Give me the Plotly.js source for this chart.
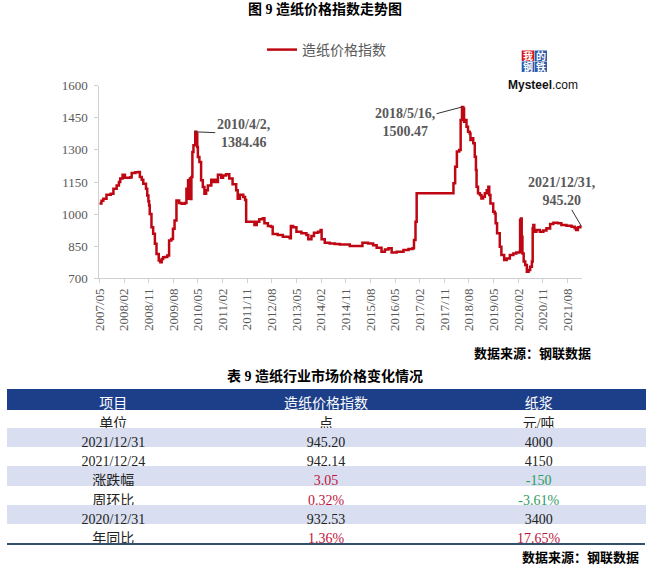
<!DOCTYPE html>
<html>
<head>
<meta charset="utf-8">
<script src="https://cdn.plot.ly/plotly-3.0.1.min.js"></script>
<style>html,body{margin:0;padding:0;background:#fff;}#chart{width:650px;height:568px;}</style>
</head>
<body>
<div id="chart"></div>
<script>
// ---- chart data (weekly paper price index) ----
const dates = [
'2007-05-01','2007-05-25','2007-06-15','2007-07-20','2007-09-05','2007-10-05','2007-11-10','2007-12-05','2007-12-20',
'2008-01-15','2008-02-10','2008-04-10','2008-04-25','2008-06-05','2008-07-05','2008-07-25','2008-08-15','2008-09-01',
'2008-10-01','2008-10-15','2008-10-28','2008-11-05','2008-11-12','2008-12-01','2008-12-20','2009-01-08','2009-01-26',
'2009-02-20','2009-03-10','2009-03-25','2009-04-10','2009-05-01','2009-05-26','2009-06-15','2009-07-10','2009-07-28',
'2009-08-15','2009-09-05','2009-10-05','2009-11-01','2009-12-05','2009-12-25','2010-01-12','2010-01-22','2010-02-01',
'2010-02-10','2010-02-18','2010-03-01','2010-03-13','2010-04-02','2010-04-13','2010-04-24','2010-05-01','2010-05-18',
'2010-06-06','2010-06-25','2010-07-13','2010-08-01','2010-08-20','2010-09-27','2010-10-20','2010-11-03','2010-11-25',
'2010-12-10','2011-01-15','2011-02-05','2011-03-10','2011-04-15','2011-05-22','2011-07-01','2011-07-18','2011-08-12',
'2011-09-18','2011-10-08','2011-10-20','2012-01-20','2012-02-15','2012-03-14','2012-04-22','2012-05-10','2012-06-18',
'2012-07-22','2012-08-10','2012-10-05','2012-12-01','2013-02-15','2013-02-28','2013-03-25','2013-05-01','2013-06-25',
'2013-08-20','2013-09-10','2013-10-15','2013-11-12','2013-12-28','2014-01-25','2014-02-05','2014-03-12','2014-05-06',
'2014-07-01','2014-08-25','2014-12-15','2015-04-05','2015-05-05','2015-07-07','2015-09-01','2015-10-10','2015-12-03',
'2016-01-10','2016-02-18','2016-03-25','2016-05-20','2016-08-03','2016-09-28','2016-11-12','2016-11-28','2016-12-15',
'2016-12-28','2018-02-10','2018-03-01','2018-03-20','2018-04-15','2018-05-01','2018-05-16','2018-05-30','2018-06-08',
'2018-06-25','2018-07-05','2018-07-22','2018-08-10','2018-08-18','2018-09-05','2018-09-18','2018-10-05','2018-10-18',
'2018-10-25','2018-11-10','2018-12-01','2018-12-18','2019-01-05','2019-01-25','2019-02-15','2019-03-05','2019-03-15',
'2019-03-28','2019-04-28','2019-05-15','2019-05-25','2019-06-10','2019-07-10','2019-07-28','2019-08-28','2019-09-25',
'2019-10-30','2019-12-08','2020-01-10','2020-02-15','2020-02-21','2020-03-01','2020-03-10','2020-03-18','2020-04-01',
'2020-04-18','2020-05-06','2020-05-25','2020-06-12','2020-07-01','2020-07-10','2020-07-17','2020-07-28','2020-08-20',
'2020-09-28','2020-11-05','2020-12-10','2020-12-31','2021-01-20','2021-02-25','2021-04-15','2021-05-25','2021-07-20',
'2021-09-15','2021-10-20','2021-11-05','2021-11-25','2021-12-24','2021-12-31'
];
const indexValues = [
1050,1062,1072,1090,1095,1119,1134,1150,1166,
1184,1170,1172,1192,1195,1197,1173,1160,1142,
1119,1087,1060,1040,1000,939,908,861,814,
783,775,790,798,800,806,877,884,931,
970,1064,1052,1048,1052,1119,1158,1072,1166,
1070,1173,1290,1322,1384.46,1377,1314,1267,1244,
1158,1127,1095,1111,1134,1161,1150,1161,1150,
1184,1170,1180,1186,1166,1139,1111,1072,1090,
1080,1066,964,949,964,976,981,957,944,
941,907,902,894,887,944,938,918,910,
902,882,898,913,918,926,882,866,863,
860,858,851,851,866,863,855,843,824,
835,840,820,824,832,837,840,879,964,
1097,1144,1221,1292,1300,1440,1500.47,1494,1432,
1440,1408,1385,1377,1346,1354,1331,1268,1206,
1128,1097,1089,1073,1081,1097,1112,1128,1089,
1050,1011,1003,957,910,848,809,786,793,
809,816,821,824,972,980,894,816,778,
762,731,739,754,778,934,949,918,926,
918,923,934,932.53,954,960,957,949,946,
941,934,926,938,942.14,945.20
];
const seriesName = '造纸价格指数';
const xTickVals = ['2007-05-01','2008-02-01','2008-11-01','2009-08-01','2010-05-01','2011-02-01','2011-11-01',
  '2012-08-01','2013-05-01','2014-02-01','2014-11-01','2015-08-01','2016-05-01','2017-02-01','2017-11-01',
  '2018-08-01','2019-05-01','2020-02-01','2020-11-01','2021-08-01'];
const xTickText = ['2007/05','2008/02','2008/11','2009/08','2010/05','2011/02','2011/11','2012/08','2013/05',
  '2014/02','2014/11','2015/08','2016/05','2017/02','2017/11','2018/08','2019/05','2020/02','2020/11','2021/08'];
const yTickVals = [700, 850, 1000, 1150, 1300, 1450, 1600];

// callouts
const calloutDates = ['2010-04-02', '2018-05-16', '2021-12-31'];
const calloutValues = [1384.46, 1500.47, 945.20];
const calloutTexts = ['2010/4/2,<br>1384.46', '2018/5/16,<br>1500.47', '2021/12/31,<br>945.20'];

// ---- table data ----
const tableHeader = ['项目', '造纸价格指数', '纸浆'];
const tableItems = ['单位', '2021/12/31', '2021/12/24', '涨跌幅', '周环比', '2020/12/31', '年同比'];
const tableIndexCol = ['点', '945.20', '942.14', '3.05', '0.32%', '932.53', '1.36%'];
const tablePulpCol = ['元/吨', '4000', '4150', '-150', '-3.61%', '3400', '17.65%'];

// ---- styling ----
const W = 650, H = 568;
const px = x => x / W;
const py = y => 1 - y / H;
const SERIF = 'Liberation Serif, Noto Sans CJK SC, serif';
const CJK = 'Liberation Serif, Noto Sans CJK SC, sans-serif';
const gray = '#595959';
const red = '#C0143C', green = '#2E9B5F', black = '#222222';
const shade = '#D9DFF0';
const headBlue = '#1D3F8A';

const rowFill = tableItems.map((_, i) => (i % 2 === 1 ? shade : '#FFFFFF'));
const redCells = new Set([tableIndexCol[3], tableIndexCol[4], tableIndexCol[6], tablePulpCol[6]]);
const colColor = (col) => col.map(v => {
  const s = String(v);
  if (redCells.has(s)) return red;
  if (s.startsWith('-')) return green;
  return black;
});

const lineTrace = {
  type: 'scatter', mode: 'lines', name: seriesName,
  x: dates, y: indexValues,
  line: { color: '#BE0712', width: 2.5, shape: 'hv' },
  xaxis: 'x', yaxis: 'y', hoverinfo: 'x+y'
};

const tableTrace = {
  type: 'table',
  domain: { x: [px(7), px(645)], y: [0, py(389)] },
  columnwidth: [1, 1, 1],
  header: {
    values: tableHeader,
    fill: { color: headBlue },
    line: { color: headBlue, width: 1 },
    font: { color: '#FFFFFF', size: 14, family: CJK },
    align: 'center', height: 20
  },
  cells: {
    values: [tableItems, tableIndexCol, tablePulpCol],
    fill: { color: [rowFill, rowFill, rowFill] },
    line: { color: [rowFill, rowFill, rowFill], width: 1 },
    font: { color: [tableItems.map(() => black), colColor(tableIndexCol), colColor(tablePulpCol)], size: 14, family: CJK },
    align: 'center', height: 19.3
  }
};

function paperText(x, y, text, font, xanchor) {
  return { xref: 'paper', yref: 'paper', x: px(x), y: py(y), text: text, showarrow: false,
    font: font, xanchor: xanchor || 'center', yanchor: 'middle' };
}

const annotations = [
  paperText(325, 9, '<b>图 9 造纸价格指数走势图</b>', { family: CJK, size: 14, color: '#000' }),
  paperText(593, 353, '<b>数据来源：钢联数据</b>', { family: CJK, size: 13, color: '#000' }, 'right'),
  paperText(325, 376, '<b>表 9 造纸行业市场价格变化情况</b>', { family: CJK, size: 14, color: '#000' }),
  paperText(641, 557, '<b>数据来源：钢联数据</b>', { family: CJK, size: 13, color: '#000' }, 'right'),
  // logo
  paperText(527.9, 55.8, '<b>我</b>', { family: CJK, size: 10, color: '#fff' }),
  paperText(540.7, 55.8, '<b>的</b>', { family: CJK, size: 10, color: '#fff' }),
  paperText(527.9, 66.8, '<b>钢</b>', { family: CJK, size: 10, color: '#fff' }),
  paperText(540.7, 66.8, '<b>铁</b>', { family: CJK, size: 10, color: '#fff' }),
  paperText(543, 85, '<b>Mysteel</b>.com', { family: 'Liberation Sans, Arial, sans-serif', size: 12, color: '#111' }),
  // callouts
  { x: calloutDates[0], y: calloutValues[0], text: '<b>' + calloutTexts[0] + '</b>', showarrow: true, arrowhead: 0,
    arrowwidth: 1, arrowcolor: '#333', ax: 48, ay: 2, font: { family: SERIF, size: 14, color: gray }, align: 'center' },
  { x: calloutDates[1], y: calloutValues[1], text: '<b>' + calloutTexts[1] + '</b>', showarrow: true, arrowhead: 0,
    arrowwidth: 1, arrowcolor: '#333', ax: -57, ay: 15, font: { family: SERIF, size: 14, color: gray }, align: 'center' },
  { x: calloutDates[2], y: calloutValues[2], text: '<b>' + calloutTexts[2] + '</b>', showarrow: true, arrowhead: 0,
    arrowwidth: 1, arrowcolor: '#333', ax: -20, ay: -34, font: { family: SERIF, size: 14, color: gray }, align: 'center' }
];

const shapes = [
  { type: 'rect', xref: 'paper', yref: 'paper', layer: 'below', x0: px(521.7), x1: px(534), y0: py(61), y1: py(50.5), fillcolor: '#D7141A', line: { width: 0 } },
  { type: 'rect', xref: 'paper', yref: 'paper', layer: 'below', x0: px(534.5), x1: px(547), y0: py(61), y1: py(50.5), fillcolor: '#2F5BA8', line: { width: 0 } },
  { type: 'rect', xref: 'paper', yref: 'paper', layer: 'below', x0: px(521.7), x1: px(534), y0: py(72), y1: py(61.5), fillcolor: '#2F5BA8', line: { width: 0 } },
  { type: 'rect', xref: 'paper', yref: 'paper', layer: 'below', x0: px(534.5), x1: px(547), y0: py(72), y1: py(61.5), fillcolor: '#2F5BA8', line: { width: 0 } },
  { type: 'line', xref: 'paper', yref: 'paper', x0: px(7), x1: px(645), y0: py(544), y1: py(544), line: { color: '#34506E', width: 2 } }
];

const layout = {
  width: W, height: H,
  margin: { l: 0, r: 0, t: 0, b: 0 },
  paper_bgcolor: '#fff', plot_bgcolor: 'rgba(0,0,0,0)',
  showlegend: true,
  legend: { orientation: 'h', x: px(262), y: py(50), xanchor: 'left', yanchor: 'middle',
    font: { family: CJK, size: 14, color: gray }, bgcolor: 'rgba(0,0,0,0)' },
  xaxis: {
    type: 'date', domain: [px(99.3), px(581.7)], range: ['2007-05-01', '2022-01-06'],
    tickvals: xTickVals, ticktext: xTickText, tickangle: -90,
    showline: true, linecolor: '#D0D0D0', linewidth: 1, showgrid: false, zeroline: false,
    ticks: 'outside', ticklen: 4, tickcolor: '#D0D0D0',
    tickfont: { family: SERIF, size: 13, color: gray }
  },
  yaxis: {
    domain: [py(278.3), py(85.7)], range: [700, 1600],
    tickvals: yTickVals, showline: true, linecolor: '#D0D0D0', linewidth: 1, showgrid: false, zeroline: false,
    ticks: 'outside', ticklen: 4, tickcolor: '#D0D0D0', ticklabelstandoff: 4,
    tickfont: { family: SERIF, size: 13, color: gray }
  },
  annotations: annotations,
  shapes: shapes
};

Plotly.newPlot('chart', [lineTrace, tableTrace], layout, { displayModeBar: false, staticPlot: true });
</script>
</body>
</html>
